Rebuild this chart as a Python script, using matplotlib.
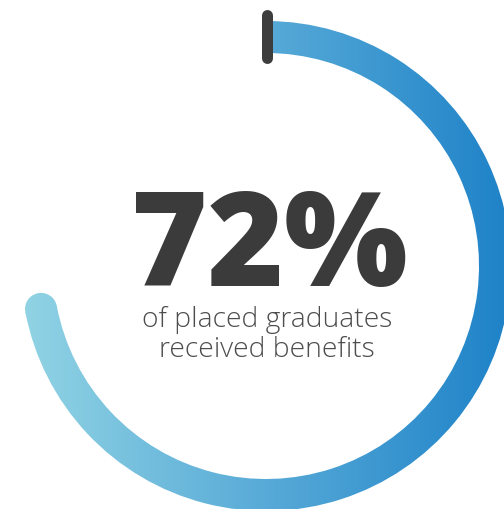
import numpy as np
import matplotlib
matplotlib.use('Agg')
import matplotlib.pyplot as plt
from matplotlib.patches import Wedge, Circle
from matplotlib.colors import LinearSegmentedColormap

# data
share = 72
headline = f'{share}%'
sub_lines = ['of placed graduates', 'received benefits']

grad_colors = ['#96d7e5', '#5aacd8', '#1e82c8']

W, H = 504, 510
cx, cy = 266, 267
r_out, r_in = 245, 213
r_mid = (r_out + r_in) / 2
thick = r_out - r_in

fig = plt.figure(figsize=(W / 100, H / 100), dpi=100)
ax = fig.add_axes([0, 0, 1, 1])
ax.set_xlim(0, W)
ax.set_ylim(H, 0)
ax.axis('off')

cmap = LinearSegmentedColormap.from_list('ring', grad_colors)
grad = np.linspace(0, 1, 256).reshape(1, -1)

# ring goes clockwise from 12 o'clock (y axis is inverted, so wedge
# angles run clockwise on screen)
sweep = share / 100 * 360
theta1 = -90
theta2 = -90 + sweep
ring = Wedge((cx, cy), r_out, theta1, theta2, width=thick,
             facecolor='none', edgecolor='none')
ax.add_patch(ring)

ang = np.deg2rad(theta2)
ex, ey = cx + r_mid * np.cos(ang), cy + r_mid * np.sin(ang)
cap = Circle((ex, ey), thick / 2, facecolor='none', edgecolor='none')
ax.add_patch(cap)

x0, x1 = cx - r_out - 20, cx + r_out
for p in (ring, cap):
    im = ax.imshow(grad, cmap=cmap, extent=[x0, x1, H, 0], aspect='auto',
                   interpolation='bicubic')
    im.set_clip_path(p)

# start tick
ax.plot([cx + 1, cx + 1], [16, 59], color='#3d3d3d', lw=11 * 0.72,
        solid_capstyle='round')

ax.text(269, 286, headline, ha='center', va='baseline', fontsize=94,
        fontfamily='Open Sans', fontweight='heavy', color='#3b3b3b')
ax.text(267, 327, sub_lines[0], ha='center', va='baseline', fontsize=20.3,
        fontfamily='Open Sans', fontweight='light', color='#4d4d4d')
ax.text(267, 357, sub_lines[1], ha='center', va='baseline', fontsize=20.3,
        fontfamily='Open Sans', fontweight='light', color='#4d4d4d')

ax.set_xlim(0, W)
ax.set_ylim(H, 0)
fig.savefig('out.png', dpi=100)
